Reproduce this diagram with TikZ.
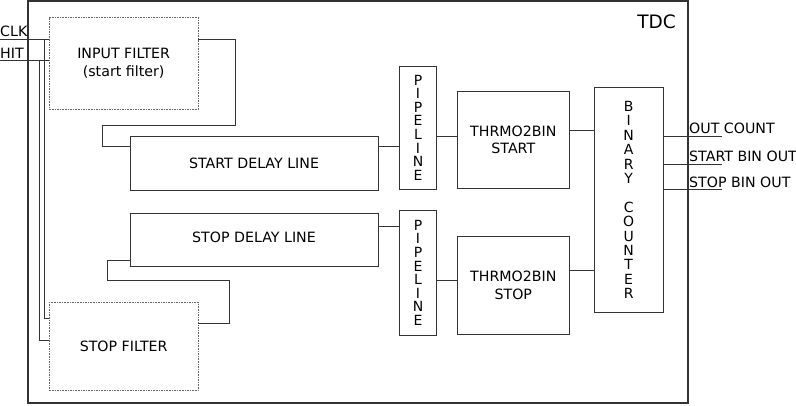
\documentclass[tikz,border=0pt]{standalone}
\usepackage{fontspec}
\setmainfont{DejaVu Sans}
\begin{document}
\begin{tikzpicture}[x=1pt,y=-1pt,
  ln/.style={draw=black!80,line width=1pt},
  blk/.style={ln,rectangle,inner sep=0pt,align=center,fill=white,
    font={\fontsize{14.2}{17.5}\selectfont}},
  dbox/.style={blk,draw=black!60,line width=0.8pt,dash pattern=on 1.6pt off 1pt},
  vtext/.style={blk,font={\fontsize{14}{13.6}\selectfont}},
  ctext/.style={blk,font={\fontsize{14}{14.4}\selectfont}},
  lbl/.style={inner sep=0pt,anchor=base west,font={\fontsize{14.2}{16}\selectfont}}
]
\useasboundingbox (0,0) rectangle (796,405);
% outer TDC box
\draw[draw=black!80,line width=1.8pt] (28,1) rectangle (688,403);
\node[inner sep=0pt,anchor=base east,font={\fontsize{18.5}{20}\selectfont}] (tdc) at (676,28.3) {TDC};

% blocks
\node[dbox,minimum width=148.7pt,minimum height=91.7pt] (infilt) at (123.65,63.15) {INPUT FILTER\\(start filter)};
\node[dbox,minimum width=148.7pt,minimum height=88.4pt] (stopfilt) at (123.65,346.5) {STOP FILTER};
\node[blk,minimum width=248pt,minimum height=54pt] (startdl) at (254,163) {START DELAY LINE};
\node[blk,minimum width=248pt,minimum height=53.4pt] (stopdl) at (254,240) {};
\node[inner sep=0pt,font={\fontsize{14.2}{17.5}\selectfont}] (stopdltext) at (254,237.8) {STOP DELAY LINE};
\node[vtext,minimum width=37.4pt,minimum height=123.3pt] (pipe1) at (418,127.65) {P\\I\\P\\E\\L\\I\\N\\E};
\node[vtext,minimum width=37.4pt,minimum height=124.3pt] (pipe2) at (418,272.85) {P\\I\\P\\E\\L\\I\\N\\E};
\node[blk,minimum width=112pt,minimum height=96.6pt] (t2bstart) at (513.3,140) {THRMO2BIN\\START};
\node[blk,minimum width=112pt,minimum height=97.3pt] (t2bstop) at (513.3,285.35) {THRMO2BIN\\STOP};
\node[ctext,minimum width=68.7pt,minimum height=225.4pt] (counter) at (628.65,200) {B\\I\\N\\A\\R\\Y\\~\\C\\O\\U\\N\\T\\E\\R};

% inputs
\coordinate (clkin) at (0,39.3);
\coordinate (hitin) at (0,60.7);
\coordinate (clkj) at (44.3,39.3);
\coordinate (hitj) at (39.3,60.7);
\node[lbl] (clk) at (0,36.7) {CLK};
\node[lbl] (hit) at (0,58.3) {HIT};
\draw[ln] (clkin) -- (clkin -| infilt.west);
\draw[ln] (hitin) -- (hitin -| infilt.west);
\draw[ln] (clkj) |- (stopfilt.west |- 0,318.3);
\draw[ln] (hitj) |- (stopfilt.west |- 0,340);

% start path
\coordinate (s1) at (235,39.3);
\coordinate (s2) at (235,125);
\coordinate (s3) at (102.7,125);
\coordinate (s4) at (102.7,146);
\draw[ln] (infilt.east |- s1) -- (s1) -- (s2) -- (s3) -- (s4) -- (s4 -| startdl.west);
\draw[ln] (startdl.east |- s4) -- (pipe1.west |- s4);
\draw[ln] (pipe1.east |- 0,136) -- (t2bstart.west |- 0,136);
\draw[ln] (t2bstart.east |- 0,130.7) -- (counter.west |- 0,130.7);

% stop path
\coordinate (p1) at (229.7,323.3);
\coordinate (p2) at (229.7,280.7);
\coordinate (p3) at (107.7,280.7);
\coordinate (p4) at (107.7,260);
\draw[ln] (stopfilt.east |- p1) -- (p1) -- (p2) -- (p3) -- (p4) -- (p4 -| stopdl.west);
\draw[ln] (stopdl.east |- 0,226.7) -- (pipe2.west |- 0,226.7);
\draw[ln] (pipe2.east |- 0,280.7) -- (t2bstop.west |- 0,280.7);
\draw[ln] (t2bstop.east |- 0,270) -- (counter.west |- 0,270);

% outputs
\coordinate (o1) at (722,136);
\coordinate (o2) at (722,164);
\coordinate (o3) at (722,189.3);
\draw[ln] (counter.east |- o1) -- (o1);
\draw[ln] (counter.east |- o2) -- (o2);
\draw[ln] (counter.east |- o3) -- (o3);
\node[lbl] (outcount) at (689,133.3) {OUT COUNT};
\node[lbl] (startbin) at (689,161.7) {START BIN OUT};
\node[lbl] (stopbin) at (689,187.3) {STOP BIN OUT};
\end{tikzpicture}
\end{document}
